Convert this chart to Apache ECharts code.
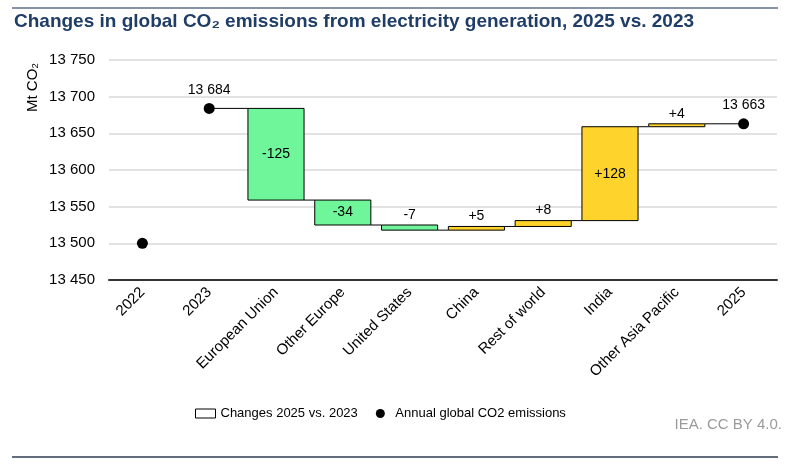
<!DOCTYPE html>
<html>
<head>
<meta charset="utf-8">
<script src="https://cdn.jsdelivr.net/npm/echarts@6/dist/echarts.min.js"></script>
<style>
  html, body { margin: 0; padding: 0; background: #fff; }
  #chart { width: 800px; height: 468px; }
</style>
</head>
<body>
<div id="chart"></div>
<script>
// categories along the x axis
var categories = ['2022', '2023', 'European Union', 'Other Europe', 'United States',
                  'China', 'Rest of world', 'India', 'Other Asia Pacific', '2025'];
// annual global CO2 emissions (Mt CO2) - dots
var emissionCats = ['2022', '2023', '2025'];
var emissionVals = [13500, 13684, 13663];
// changes 2025 vs 2023 by region (Mt CO2)
var changeCats = ['European Union', 'Other Europe', 'United States', 'China',
                  'Rest of world', 'India', 'Other Asia Pacific'];
var changeVals = [-125, -34, -7, 5, 8, 128, 4];
// y axis ticks
var yMin = 13450, yMax = 13750, yStep = 50;

var FONT = '"Liberation Sans", Arial, sans-serif';
var GREEN = '#6ff59a', YELLOW = '#fed32b';

// build waterfall rows: [catIndex, start, end, change]
var waterfall = [];
var level = emissionVals[1];
for (var i = 0; i < changeVals.length; i++) {
  var next = level + changeVals[i];
  waterfall.push([categories.indexOf(changeCats[i]), level, next, changeVals[i]]);
  level = next;
}
var dots = emissionCats.map(function (c, i) {
  return [categories.indexOf(c), emissionVals[i]];
});

function fmt(v) {
  var s = String(Math.round(v));
  return s.replace(/\B(?=(\d{3})+(?!\d))/g, ' ');
}

function renderBar(params, api) {
  var idx = api.value(0), s = api.value(1), e = api.value(2), c = api.value(3);
  var p1 = api.coord([idx, s]);
  var p2 = api.coord([idx, e]);
  var w = api.size([1, 0])[0] * 0.84;
  var left = p1[0] - w / 2;
  var top = Math.min(p1[1], p2[1]);
  var h = Math.abs(p1[1] - p2[1]);
  var children = [];
  var first = params.dataIndex === 0;
  var last = params.dataIndex === waterfall.length - 1;
  // connector from previous mark
  var prevX = api.coord([idx - 1, s])[0] + (first ? 0 : w / 2);
  children.push({
    type: 'line',
    shape: { x1: prevX, y1: p1[1], x2: left, y2: p1[1] },
    style: { stroke: '#000', lineWidth: 1 }
  });
  if (last) {
    var nx = api.coord([idx + 1, e])[0];
    children.push({
      type: 'line',
      shape: { x1: left + w, y1: p2[1], x2: nx, y2: p2[1] },
      style: { stroke: '#000', lineWidth: 1 }
    });
  }
  children.push({
    type: 'rect',
    shape: { x: left, y: top, width: w, height: Math.max(h, 1) },
    style: { fill: c < 0 ? GREEN : YELLOW, stroke: '#000', lineWidth: 1 }
  });
  var txt = c > 0 ? '+' + c : String(c);
  var big = Math.abs(c) > 20;
  children.push({
    type: 'text',
    style: {
      text: txt,
      x: p1[0],
      y: big ? top + h / 2 : top - 3,
      align: 'center',
      verticalAlign: big ? 'middle' : 'bottom',
      fill: '#000',
      font: '14px ' + FONT
    },
    z2: 10
  });
  return { type: 'group', children: children };
}

var chart = echarts.init(document.getElementById('chart'));
chart.setOption({
  animation: false,
  textStyle: { fontFamily: FONT },
  grid: { left: 109, right: 23, top: 60, bottom: 188 },
  graphic: [
    { type: 'line', shape: { x1: 12, y1: 8, x2: 778, y2: 8 }, style: { stroke: '#5d6f87', lineWidth: 1.5 } },
    { type: 'line', shape: { x1: 12, y1: 457, x2: 778, y2: 457 }, style: { stroke: '#2f3e52', lineWidth: 1.5 } },
    { type: 'text', left: 14, top: 12,
      style: { text: 'Changes in global CO₂ emissions from electricity generation, 2025 vs. 2023',
               font: 'bold 19px ' + FONT, fill: '#1f3d66' } },
    { type: 'text', x: 25, y: 112, rotation: Math.PI / 2,
      style: { text: 'Mt CO₂', font: '15px ' + FONT, fill: '#000' } },
    { type: 'text', right: 18, top: 417,
      style: { text: 'IEA. CC BY 4.0.', font: '15px ' + FONT, fill: '#9a9a9a' } }
  ],
  legend: {
    left: 190, top: 402,
    itemGap: 18,
    itemWidth: 20, itemHeight: 9,
    textStyle: { fontSize: 13, color: '#000', fontFamily: FONT },
    data: [
      { name: 'Changes 2025 vs. 2023', icon: 'rect',
        itemStyle: { color: '#fff', borderColor: '#000', borderWidth: 1 } },
      { name: 'Annual global CO2 emissions', icon: 'circle',
        itemStyle: { color: '#000', opacity: 1 } }
    ]
  },
  xAxis: {
    type: 'category',
    data: categories,
    axisLine: { lineStyle: { color: '#333', width: 2 } },
    axisTick: { show: false },
    axisLabel: { rotate: 45, interval: 0, fontSize: 15, color: '#000', margin: 10 }
  },
  yAxis: {
    type: 'value',
    min: yMin, max: yMax, interval: yStep,
    axisLine: { show: false },
    axisTick: { show: false },
    axisLabel: { fontSize: 15, color: '#000', margin: 14, formatter: fmt },
    splitLine: { lineStyle: { color: '#d9d9d9', width: 1.5 } }
  },
  series: [
    {
      name: 'Changes 2025 vs. 2023',
      type: 'custom',
      renderItem: renderBar,
      itemStyle: { color: '#fff', borderColor: '#000' },
      encode: { x: 0, y: [1, 2] },
      data: waterfall,
      z: 2
    },
    {
      name: 'Annual global CO2 emissions',
      type: 'scatter',
      symbolSize: 11,
      itemStyle: { color: '#000', opacity: 1 },
      data: dots,
      z: 5,
      label: {
        show: true, position: 'top', distance: 6,
        fontSize: 14, color: '#000',
        formatter: function (p) { return p.dataIndex === 0 ? '' : fmt(p.value[1]); }
      }
    }
  ]
});
</script>
</body>
</html>
